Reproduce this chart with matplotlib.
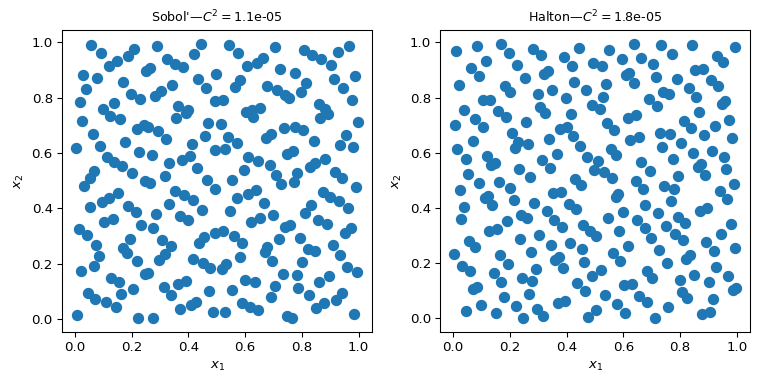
import numpy as np
import matplotlib
matplotlib.use("Agg")
import matplotlib.pyplot as plt

titles = [r"Sobol'—$C^2 = $1.1e-05", r"Halton—$C^2 = $1.8e-05"]

# Sobol' points
sobol_x = [0.058, 0.093, 0.208, 0.187, 0.290, 0.443, 0.420, 0.150, 0.121, 0.326,
           0.354, 0.380, 0.263, 0.251, 0.029, 0.079, 0.497, 0.435, 0.170, 0.040,
           0.344, 0.463, 0.199, 0.230, 0.304, 0.284, 0.019, 0.495, 0.139, 0.100,
           0.125, 0.160, 0.025, 0.365, 0.399, 0.392, 0.358, 0.470, 0.219, 0.243,
           0.259, 0.293,
           0.542, 0.574, 0.704, 0.807, 0.836, 0.966, 0.928, 0.869, 0.902, 0.662,
           0.641, 0.605, 0.583, 0.563, 0.722, 0.775, 0.816, 0.678, 0.714, 0.742,
           0.755, 0.796, 0.912, 0.987, 0.945, 0.976, 0.522, 0.861, 0.883, 0.892,
           0.863, 0.602, 0.623, 0.628, 0.651, 0.515, 0.998, 0.736, 0.777, 0.805,
           0.065, 0.322, 0.457, 0.005, 0.087, 0.178, 0.227, 0.272, 0.412, 0.494,
           0.114, 0.138, 0.167, 0.333, 0.376, 0.404, 0.068, 0.052, 0.033, 0.201,
           0.248, 0.266, 0.316, 0.429, 0.466, 0.493, 0.352, 0.386, 0.418, 0.448,
           0.153, 0.119, 0.097, 0.055, 0.186, 0.217, 0.330, 0.287, 0.372, 0.397,
           0.133, 0.104, 0.234, 0.277, 0.015,
           0.538, 0.572, 0.530, 0.672, 0.690, 0.841, 0.955, 0.936, 0.979, 0.611,
           0.647, 0.686, 0.746, 0.768, 0.829, 0.846, 0.880, 0.595, 0.708, 0.781,
           0.916, 0.943, 0.552, 0.727, 0.771, 0.990, 0.873, 0.899, 0.930, 0.962,
           0.637, 0.609, 0.570, 0.665, 0.545, 0.697, 0.654, 0.619, 0.831, 0.810,
           0.856, 0.888, 0.757, 0.739, 0.522, 0.973,
           0.044, 0.196, 0.075, 0.171, 0.183, 0.084, 0.307, 0.340, 0.319, 0.297,
           0.455, 0.439, 0.495, 0.218, 0.416, 0.450, 0.475, 0.021, 0.068, 0.247,
           0.259, 0.127, 0.157, 0.205, 0.164, 0.313, 0.337, 0.362, 0.391, 0.471,
           0.048, 0.072, 0.111, 0.146, 0.007, 0.223, 0.277, 0.372, 0.409, 0.426,
           0.487,
           0.559, 0.588, 0.718, 0.793, 0.952, 0.676, 0.669, 0.820, 0.846, 0.909,
           0.934, 0.581, 0.694, 0.800, 0.534, 0.517, 0.959, 0.994, 0.733, 0.782,
           0.895, 0.860, 0.598, 0.634, 0.555, 0.704, 0.786, 0.824, 0.690, 0.941,
           0.919, 0.877, 0.849, 0.590, 0.616, 0.644, 0.528, 0.748, 0.766, 0.983]
sobol_y = [0.992, 0.960, 0.974, 0.949, 0.986, 0.995, 0.956, 0.931, 0.915, 0.938,
           0.922, 0.911, 0.906, 0.896, 0.883, 0.871, 0.884, 0.867, 0.857, 0.830,
           0.847, 0.836, 0.814, 0.796, 0.824, 0.807, 0.786, 0.788, 0.782, 0.760,
           0.735, 0.721, 0.715, 0.768, 0.757, 0.743, 0.728, 0.708, 0.688, 0.701,
           0.693, 0.679,
           0.992, 0.960, 0.982, 0.972, 0.954, 0.988, 0.966, 0.938, 0.918, 0.942,
           0.924, 0.913, 0.864, 0.840, 0.904, 0.890, 0.853, 0.843, 0.828, 0.811,
           0.798, 0.819, 0.867, 0.878, 0.835, 0.790, 0.792, 0.776, 0.758, 0.740,
           0.725, 0.747, 0.754, 0.731, 0.764, 0.704, 0.711, 0.692, 0.695, 0.683,
           0.667, 0.650, 0.662, 0.619, 0.625, 0.639, 0.605, 0.593, 0.632, 0.611,
           0.584, 0.567, 0.552, 0.562, 0.575, 0.590, 0.535, 0.508, 0.480, 0.526,
           0.497, 0.490, 0.515, 0.544, 0.501, 0.471, 0.462, 0.447, 0.431, 0.395,
           0.456, 0.437, 0.423, 0.405, 0.409, 0.387, 0.416, 0.381, 0.374, 0.356,
           0.363, 0.349, 0.338, 0.330, 0.325,
           0.658, 0.636, 0.616, 0.655, 0.670, 0.643, 0.664, 0.629, 0.622, 0.586,
           0.572, 0.558, 0.597, 0.607, 0.548, 0.563, 0.580, 0.540, 0.520, 0.529,
           0.533, 0.511, 0.504, 0.488, 0.495, 0.477, 0.459, 0.441, 0.427, 0.401,
           0.465, 0.451, 0.437, 0.419, 0.391, 0.377, 0.365, 0.352, 0.412, 0.384,
           0.358, 0.345, 0.341, 0.333, 0.318, 0.328,
           0.304, 0.288, 0.269, 0.256, 0.240, 0.227, 0.284, 0.262, 0.236, 0.212,
           0.298, 0.276, 0.310, 0.209, 0.217, 0.202, 0.185, 0.173, 0.191, 0.163,
           0.167, 0.148, 0.132, 0.109, 0.089, 0.117, 0.085, 0.127, 0.138, 0.102,
           0.093, 0.074, 0.060, 0.042, 0.013, 0.002, 0.005, 0.036, 0.050, 0.063,
           0.025,
           0.301, 0.273, 0.288, 0.292, 0.310, 0.259, 0.241, 0.252, 0.246, 0.266,
           0.230, 0.223, 0.209, 0.205, 0.198, 0.180, 0.187, 0.170, 0.163, 0.159,
           0.155, 0.133, 0.141, 0.132, 0.106, 0.120, 0.113, 0.085, 0.081, 0.095,
           0.070, 0.056, 0.038, 0.059, 0.045, 0.031, 0.027, 0.010, 0.005, 0.018]

# Halton points
halton_x = [0.011, 0.086, 0.170, 0.196, 0.281, 0.309, 0.444, 0.391, 0.492, 0.420,
            0.115, 0.065, 0.090, 0.225, 0.253, 0.319, 0.334, 0.426, 0.022, 0.182,
            0.200, 0.349, 0.299, 0.468, 0.398, 0.104, 0.129, 0.488, 0.306, 0.324,
            0.037, 0.157, 0.186, 0.079, 0.416, 0.256, 0.008, 0.107, 0.376, 0.403,
            0.551, 0.636, 0.732, 0.842, 0.995, 0.771, 0.597, 0.661, 0.703, 0.525,
            0.930, 0.951, 0.621, 0.611, 0.714, 0.851, 0.880, 0.788, 0.909, 0.934,
            0.540, 0.639, 0.831, 0.740, 0.760, 0.855, 0.528, 0.689, 0.717, 0.518,
            0.948, 0.958, 0.866, 0.618, 0.646, 0.544, 0.568, 0.813, 0.838, 0.922,
            0.972,
            0.207, 0.069, 0.015, 0.228, 0.219, 0.264, 0.338, 0.423, 0.448, 0.044,
            0.118, 0.148, 0.134, 0.365, 0.312, 0.340, 0.472, 0.495, 0.232, 0.270,
            0.051, 0.093, 0.161, 0.026, 0.202, 0.429, 0.451, 0.352, 0.381, 0.123,
            0.111, 0.214, 0.138, 0.039, 0.285, 0.409, 0.434, 0.330, 0.238, 0.260,
            0.028, 0.189, 0.356, 0.384, 0.459, 0.125, 0.155, 0.482,
            0.728, 0.763, 0.884, 0.625, 0.654, 0.982, 0.558, 0.576, 0.735, 0.803,
            0.845, 0.912, 0.955, 0.774, 0.510, 0.664, 0.693, 0.864, 0.875, 0.888,
            0.962, 0.533, 0.561, 0.792, 0.643, 0.668, 0.742, 0.777, 0.989, 0.941,
            0.966, 0.583, 0.573, 0.767, 0.678, 0.870, 0.896, 0.600, 0.721, 0.794,
            0.818, 0.547, 0.650, 0.675, 0.749, 0.980, 0.586,
            0.235, 0.303, 0.056, 0.076, 0.344, 0.412, 0.455, 0.505, 0.005, 0.164,
            0.273, 0.359, 0.373, 0.462, 0.033, 0.061, 0.193, 0.292, 0.388, 0.143,
            0.489, 0.242, 0.168, 0.278, 0.437, 0.072, 0.084, 0.465, 0.267, 0.178,
            0.369, 0.395, 0.100, 0.221, 0.047, 0.150, 0.295, 0.317, 0.246, 0.476,
            0.503,
            0.696, 0.781, 0.809, 0.943, 0.891, 0.615, 0.725, 0.918, 0.994, 0.565,
            0.590, 0.822, 0.834, 0.753, 0.926, 0.522, 0.682, 0.700, 0.849, 0.969,
            0.799, 0.902, 0.604, 0.629, 0.987, 0.998, 0.537, 0.807, 0.826, 0.657,
            0.685, 0.916, 0.578, 0.756, 0.607, 0.710, 0.877, 0.905]
halton_y = [0.967, 0.986, 0.995, 0.963, 0.974, 0.954, 0.979, 0.946, 0.925, 0.915,
            0.931, 0.907, 0.878, 0.918, 0.871, 0.887, 0.897, 0.858, 0.847, 0.840,
            0.819, 0.828, 0.811, 0.826, 0.800, 0.790, 0.792, 0.772, 0.764, 0.744,
            0.754, 0.751, 0.728, 0.722, 0.740, 0.712, 0.700, 0.692, 0.687, 0.694,
            0.972, 0.995, 0.989, 0.992, 0.982, 0.956, 0.940, 0.942, 0.921, 0.913,
            0.949, 0.928, 0.890, 0.880, 0.874, 0.898, 0.903, 0.867, 0.864, 0.842,
            0.849, 0.853, 0.835, 0.821, 0.814, 0.803, 0.803, 0.796, 0.768, 0.760,
            0.776, 0.786, 0.747, 0.725, 0.736, 0.707, 0.683, 0.714, 0.691, 0.696,
            0.719,
            0.670, 0.643, 0.612, 0.639, 0.619, 0.632, 0.650, 0.662, 0.625, 0.579,
            0.590, 0.562, 0.554, 0.597, 0.572, 0.544, 0.583, 0.536, 0.540, 0.511,
            0.522, 0.490, 0.494, 0.465, 0.472, 0.504, 0.483, 0.454, 0.458, 0.444,
            0.435, 0.430, 0.409, 0.405, 0.419, 0.416, 0.395, 0.388, 0.376, 0.365,
            0.359, 0.352, 0.356, 0.331, 0.338, 0.317, 0.323, 0.318,
            0.673, 0.667, 0.664, 0.647, 0.657, 0.655, 0.615, 0.593, 0.622, 0.636,
            0.600, 0.607, 0.586, 0.579, 0.569, 0.565, 0.533, 0.548, 0.559, 0.520,
            0.540, 0.529, 0.508, 0.515, 0.497, 0.467, 0.479, 0.469, 0.488, 0.461,
            0.433, 0.451, 0.439, 0.426, 0.412, 0.390, 0.401, 0.384, 0.381, 0.369,
            0.344, 0.362, 0.356, 0.327, 0.333, 0.342, 0.317,
            0.288, 0.301, 0.280, 0.259, 0.266, 0.273, 0.252, 0.299, 0.234, 0.230,
            0.241, 0.212, 0.223, 0.205, 0.191, 0.173, 0.198, 0.180, 0.184, 0.163,
            0.152, 0.145, 0.131, 0.134, 0.127, 0.106, 0.114, 0.099, 0.088, 0.077,
            0.056, 0.063, 0.049, 0.045, 0.027, 0.020, 0.034, 0.010, 0.000, 0.006,
            0.031,
            0.292, 0.304, 0.284, 0.307, 0.277, 0.262, 0.248, 0.244, 0.256, 0.237,
            0.209, 0.216, 0.228, 0.202, 0.187, 0.177, 0.170, 0.148, 0.159, 0.155,
            0.138, 0.131, 0.120, 0.123, 0.102, 0.109, 0.084, 0.095, 0.074, 0.081,
            0.060, 0.070, 0.052, 0.042, 0.021, 0.002, 0.017, 0.025]

fig, axs = plt.subplots(1, 2, figsize=(8, 4), dpi=96)
fig.subplots_adjust(left=0.081, right=0.977, top=0.922, bottom=0.135, wspace=0.22)

for ax, xs, ys, title in zip(axs, [sobol_x, halton_x], [sobol_y, halton_y], titles):
    ax.scatter(xs, ys, s=56, color="#1f77b4")
    ax.set_title(title, fontsize=9.5)
    ax.set_xlabel("$x_1$")
    ax.set_ylabel("$x_2$")
    ax.set_xticks([0.0, 0.2, 0.4, 0.6, 0.8, 1.0])
    ax.set_yticks([0.0, 0.2, 0.4, 0.6, 0.8, 1.0])

fig.savefig("out.png")
